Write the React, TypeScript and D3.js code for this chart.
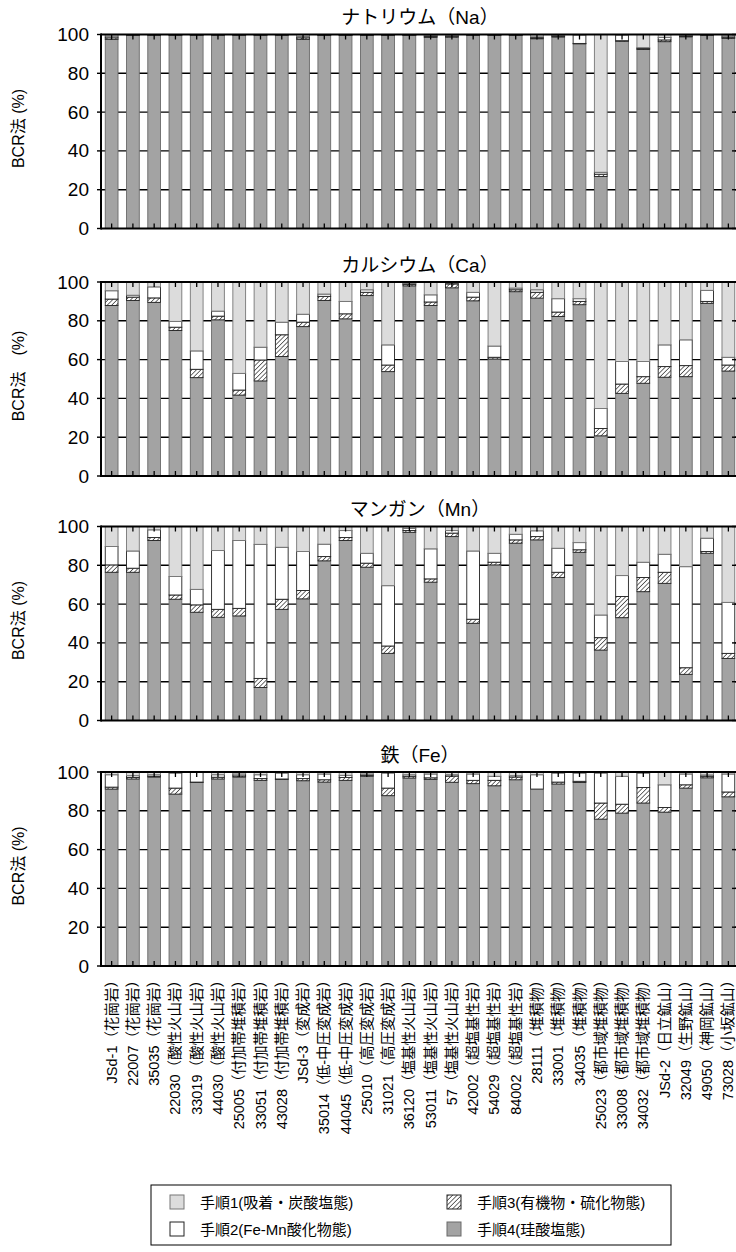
import * as d3 from "d3";

// sample labels (x axis)
const categories = [
  "JSd-1（花崗岩）", "22007（花崗岩）", "35035（花崗岩）",
  "22030（酸性火山岩）", "33019（酸性火山岩）", "44030（酸性火山岩）",
  "25005（付加帯堆積岩）", "33051（付加帯堆積岩）", "43028（付加帯堆積岩）",
  "JSd-3（変成岩）", "35014（低-中圧変成岩）", "44045（低-中圧変成岩）",
  "25010（高圧変成岩）", "31021（高圧変成岩）",
  "36120（塩基性火山岩）", "53011（塩基性火山岩）", "57（塩基性火山岩）",
  "42002（超塩基性岩）", "54029（超塩基性岩）", "84002（超塩基性岩）",
  "28111（堆積物）", "33001（堆積物）", "34035（堆積物）",
  "25023（都市域堆積物）", "33008（都市域堆積物）", "34032（都市域堆積物）",
  "JSd-2（日立鉱山）", "32049（生野鉱山）", "49050（神岡鉱山）", "73028（小坂鉱山）",
];

const yTicks = [0, 20, 40, 60, 80, 100];

// Na
const naStep4 = [97.5, 99.5, 99.6, 99.6, 99.6, 99.6, 99.6, 99.6, 99.6, 97.5, 99.5, 99.5, 99.5, 99.5, 99.5, 98.5, 98.6, 99.5, 99.5, 99.5, 97.8, 98.7, 95.2, 26.8, 96.5, 92.3, 96.3, 98.8, 99.6, 98.0];
const naStep3 = [0.8, 0.2, 0.2, 0.2, 0.2, 0.2, 0.2, 0.2, 0.2, 0.8, 0.2, 0.2, 0.2, 0.2, 0.2, 0.5, 0.5, 0.2, 0.2, 0.2, 0.5, 0.5, 0.2, 1.2, 0.3, 0.4, 0.9, 0.4, 0.2, 0.6];
const naStep2 = [0.9, 0.2, 0.1, 0.1, 0.1, 0.1, 0.1, 0.1, 0.1, 0.7, 0.2, 0.2, 0.2, 0.2, 0.2, 0.5, 0.4, 0.2, 0.2, 0.2, 0.5, 0.4, 4.4, 1.0, 3.0, 0.5, 1.3, 0.4, 0.1, 0.7];
const naStep1 = [0.8, 0.1, 0.1, 0.1, 0.1, 0.1, 0.1, 0.1, 0.1, 1.0, 0.1, 0.1, 0.1, 0.1, 0.1, 0.5, 0.5, 0.1, 0.1, 0.1, 1.2, 0.4, 0.2, 71.0, 0.2, 6.8, 1.5, 0.4, 0.1, 0.7];

// Ca
const caStep4 = [87.9, 90.5, 89.5, 75.0, 50.7, 80.5, 41.7, 49.0, 61.6, 77.0, 90.5, 81.0, 93.0, 53.8, 98.0, 87.9, 97.0, 90.3, 60.3, 95.0, 91.7, 82.2, 88.3, 20.7, 42.6, 47.8, 50.9, 51.2, 89.0, 54.1];
const caStep3 = [3.3, 1.7, 2.3, 1.7, 4.3, 1.9, 2.6, 10.8, 11.2, 2.3, 2.1, 2.6, 1.7, 3.4, 0.8, 1.8, 2.0, 1.9, 0.9, 1.0, 3.0, 2.3, 1.7, 3.8, 4.8, 3.4, 5.5, 5.7, 1.0, 3.1];
const caStep2 = [4.3, 1.0, 5.7, 3.0, 9.5, 2.6, 8.6, 6.6, 6.5, 4.1, 1.2, 6.4, 1.3, 10.4, 0.5, 3.7, 0.5, 2.5, 5.8, 0.9, 1.3, 6.9, 1.4, 10.3, 11.6, 7.8, 11.2, 13.3, 5.7, 4.0];
const caStep1 = [4.5, 6.8, 2.5, 20.3, 35.5, 15.0, 47.1, 33.6, 20.7, 16.6, 6.2, 10.0, 4.0, 32.4, 0.7, 6.6, 0.5, 5.3, 33.0, 3.1, 4.0, 8.6, 8.6, 65.2, 41.0, 41.0, 32.4, 29.8, 4.3, 38.8];

// Mn
const mnStep4 = [76.4, 76.4, 92.8, 62.5, 55.8, 53.2, 53.9, 17.0, 57.3, 62.7, 82.3, 92.8, 79.0, 34.6, 97.0, 71.3, 94.8, 50.1, 80.2, 91.4, 93.1, 73.7, 86.7, 36.3, 53.0, 66.4, 70.7, 23.8, 86.2, 32.0];
const mnStep3 = [3.8, 2.1, 1.5, 2.2, 3.8, 4.1, 3.9, 4.7, 5.2, 4.3, 2.2, 1.5, 2.1, 3.8, 0.9, 1.7, 1.8, 2.1, 1.4, 1.7, 1.7, 2.7, 1.3, 6.4, 10.9, 7.3, 5.7, 3.4, 0.9, 2.6];
const mnStep2 = [9.5, 8.9, 4.0, 9.5, 8.0, 30.3, 35.0, 69.1, 26.8, 20.1, 6.4, 3.6, 5.1, 31.1, 1.1, 15.5, 1.3, 35.2, 4.6, 2.9, 3.0, 12.4, 3.7, 11.7, 10.8, 7.9, 9.3, 52.1, 6.9, 26.3];
const mnStep1 = [10.3, 12.6, 1.7, 25.8, 32.4, 12.4, 7.2, 9.2, 10.7, 12.9, 9.1, 2.1, 13.8, 30.5, 1.0, 11.5, 2.1, 12.6, 13.8, 4.0, 2.2, 11.2, 8.3, 45.6, 25.3, 18.4, 14.3, 20.7, 6.0, 39.1];

// Fe
const feStep4 = [91.2, 96.4, 97.4, 88.6, 94.6, 96.4, 97.4, 95.7, 96.2, 95.5, 94.8, 95.7, 97.8, 87.8, 96.9, 96.2, 94.7, 94.0, 92.9, 96.0, 91.2, 93.8, 94.6, 75.7, 78.8, 84.0, 79.3, 91.7, 97.0, 87.2];
const feStep3 = [1.0, 0.8, 0.4, 3.1, 0.2, 0.9, 0.6, 0.9, 0.2, 1.1, 1.2, 1.5, 0.5, 3.9, 0.9, 0.8, 3.2, 1.7, 2.8, 1.4, 0.0, 1.0, 0.6, 8.3, 4.6, 8.0, 2.4, 1.7, 0.8, 2.5];
const feStep2 = [6.4, 0.9, 0.8, 7.8, 5.0, 1.3, 1.0, 2.0, 3.1, 2.0, 3.0, 1.1, 0.7, 7.8, 0.8, 2.0, 0.7, 3.3, 2.1, 0.7, 7.4, 4.7, 4.3, 15.5, 14.4, 7.5, 11.7, 5.6, 0.7, 9.3];
const feStep1 = [1.4, 1.9, 1.4, 0.5, 0.2, 1.4, 1.0, 1.4, 0.5, 1.4, 1.0, 1.7, 1.0, 0.5, 1.4, 1.0, 1.4, 1.0, 2.2, 1.9, 1.4, 0.5, 0.5, 0.5, 2.2, 0.5, 6.6, 1.0, 1.5, 1.0];

const stepKeys = ["step4", "step3", "step2", "step1"];
const legendLabels = [
  "手順1(吸着・炭酸塩態)", "手順3(有機物・硫化物態)",
  "手順2(Fe-Mn酸化物態)", "手順4(珪酸塩態)",
];
const legendKeys = ["step1", "step3", "step2", "step4"];

const fills = { step4: "#a3a3a3", step3: "url(#hatch)", step2: "#ffffff", step1: "#dcdcdc" };
const strokes = { step4: "#6a6a6a", step3: "#222", step2: "#222", step1: "#777" };

const panels = [
  { title: "ナトリウム（Na）", yLabel: "BCR法 (%)", top: 34.5, series: [naStep4, naStep3, naStep2, naStep1] },
  { title: "カルシウム（Ca）", yLabel: "BCR法　(%)", top: 282, series: [caStep4, caStep3, caStep2, caStep1] },
  { title: "マンガン（Mn）", yLabel: "BCR法 (%)", top: 526.5, series: [mnStep4, mnStep3, mnStep2, mnStep1] },
  { title: "鉄（Fe）", yLabel: "BCR法 (%)", top: 772, series: [feStep4, feStep3, feStep2, feStep1] },
];

const W = 736;
const H = 1252;
const plotLeft = 101;
const plotRight = 739;
const plotH = 194;
const font = "'Liberation Sans', Arial, 'Noto Sans CJK JP', sans-serif";

const x = d3.scaleBand<string>()
  .domain(categories)
  .range([plotLeft, plotRight])
  .paddingInner(0.4)
  .paddingOuter(0.2);

function Panel({ panel }) {
  const y = d3.scaleLinear().domain([0, 100]).range([panel.top + plotH, panel.top]);
  const rows = categories.map((c, i) => {
    const r: any = { cat: c };
    stepKeys.forEach((k, j) => (r[k] = panel.series[j][i]));
    return r;
  });
  const stacked = d3.stack().keys(stepKeys)(rows);
  const bottom = y(0);
  const top = y(100);

  return (
    <g>
      <text x={(plotLeft + plotRight) / 2} y={top - 17} textAnchor="middle"
        dominantBaseline="central" fontSize={19} fontFamily={font}>{panel.title}</text>
      <text transform={`translate(18,${(top + bottom) / 2 - 3}) rotate(-90)`} textAnchor="middle"
        dominantBaseline="central" fontSize={16} fontFamily={font}>{panel.yLabel}</text>

      {/* grid */}
      {yTicks.filter((t) => t > 0 && t < 100).map((t) => (
        <line key={t} x1={plotLeft} x2={plotRight} y1={y(t)} y2={y(t)} stroke="#000" strokeWidth={1.4} />
      ))}

      {/* bars */}
      {stacked.map((layer) => (
        <g key={layer.key}>
          {layer.map((d, i) => {
            const h = y(d[0]) - y(d[1]);
            if (h <= 0) return null;
            return (
              <rect key={i} x={x(categories[i])} width={x.bandwidth()} y={y(d[1])} height={h}
                fill={fills[layer.key]} stroke={strokes[layer.key]} strokeWidth={0.9} />
            );
          })}
        </g>
      ))}

      {/* frame + ticks */}
      <line x1={plotLeft} x2={plotRight} y1={top} y2={top} stroke="#000" strokeWidth={2} />
      <line x1={plotLeft} x2={plotRight} y1={bottom} y2={bottom} stroke="#000" strokeWidth={2} />
      <line x1={plotLeft} x2={plotLeft} y1={top - 1} y2={bottom + 1} stroke="#000" strokeWidth={2} />
      <line x1={plotRight} x2={plotRight} y1={top - 1} y2={bottom + 1} stroke="#000" strokeWidth={2} />
      {categories.map((c) => {
        const cx = x(c) + x.bandwidth() / 2;
        return (
          <g key={c}>
            <line x1={cx} x2={cx} y1={top} y2={top + 5} stroke="#000" strokeWidth={1.3} />
            <line x1={cx} x2={cx} y1={bottom} y2={bottom - 5} stroke="#000" strokeWidth={1.3} />
          </g>
        );
      })}
      {yTicks.map((t) => (
        <g key={t}>
          <line x1={plotLeft - 4} x2={plotLeft} y1={y(t)} y2={y(t)} stroke="#000" strokeWidth={1.4} />
          <line x1={plotRight - 7} x2={plotRight} y1={y(t)} y2={y(t)} stroke="#000" strokeWidth={1.4} />
          <text x={89} y={y(t)} textAnchor="end" dominantBaseline="central" fontSize={19}
            fontFamily={font}>{t}</text>
        </g>
      ))}
    </g>
  );
}

export default function App() {
  const lastBottom = panels[3].top + plotH;
  return (
    <div style={{ position: "absolute", left: 0, top: 0 }}>
      <svg width={W} height={H} style={{ display: "block", background: "#fff" }}>
        <defs>
          <pattern id="hatch" patternUnits="userSpaceOnUse" width={3.2} height={3.2}
            patternTransform="rotate(45)">
            <rect width={3.2} height={3.2} fill="#fff" />
            <line x1={0} y1={0} x2={0} y2={3.2} stroke="#222" strokeWidth={1.3} />
          </pattern>
        </defs>
        <rect width={W} height={H} fill="#fff" />
        {panels.map((p) => <Panel key={p.title} panel={p} />)}

        {categories.map((c) => (
          <text key={c} transform={`translate(${x(c) + x.bandwidth() / 2},${lastBottom + 7}) rotate(-90)`}
            textAnchor="end" dominantBaseline="central" fontSize={14.5} fontFamily={font}>{c}</text>
        ))}

        {/* legend */}
        <rect x={151} y={1185} width={520} height={60} fill="#fff" stroke="#000" strokeWidth={1} />
        {legendKeys.map((k, i) => {
          const col = i % 2;
          const row = Math.floor(i / 2);
          const lx = col === 0 ? 170 : 447;
          const ly = 1202 + row * 27;
          return (
            <g key={k}>
              <rect x={lx} y={ly - 7} width={14} height={14} fill={fills[k]} stroke={strokes[k]} strokeWidth={1} />
              <text x={lx + 30} y={ly} dominantBaseline="central" fontSize={15} fontFamily={font}>
                {legendLabels[i]}
              </text>
            </g>
          );
        })}
      </svg>
    </div>
  );
}
